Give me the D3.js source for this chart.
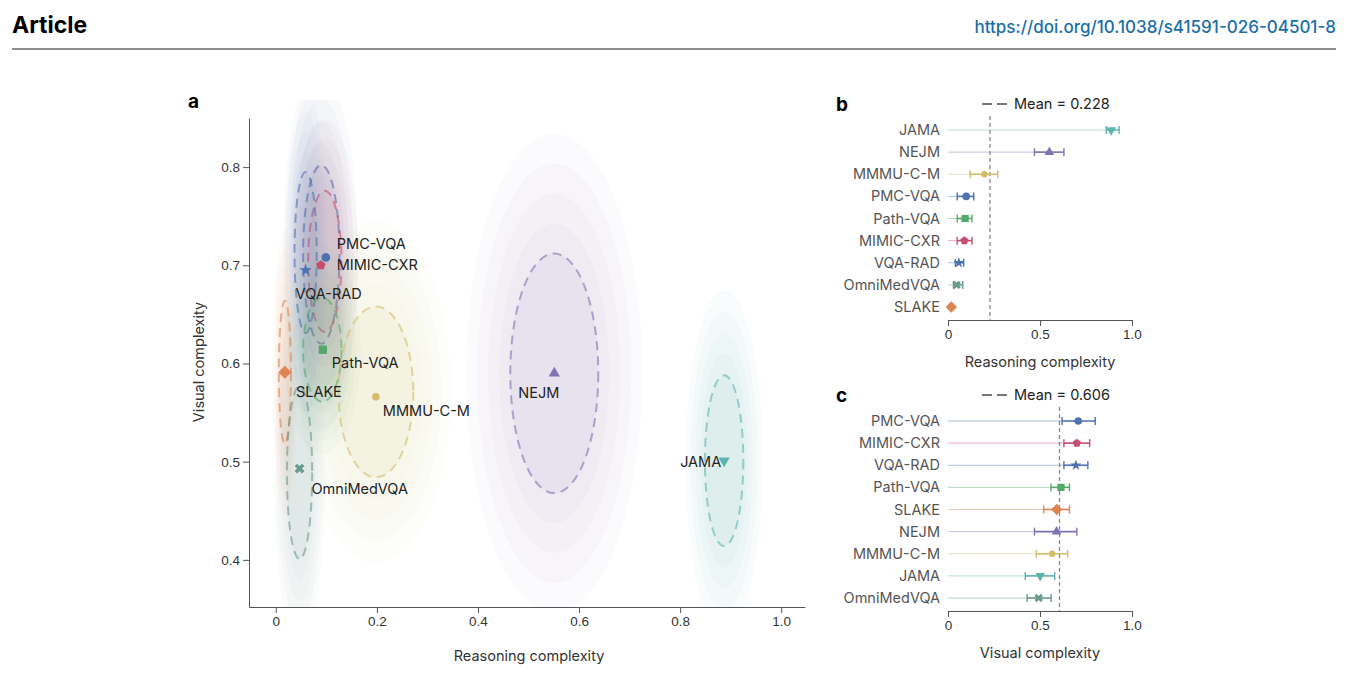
<!DOCTYPE html>
<html><head><meta charset="utf-8">
<script src="https://cdn.jsdelivr.net/npm/d3@7"></script>
<style>body{margin:0;background:#fff;font-family:Inter,"Noto Sans",sans-serif}</style>
</head><body><div id="vis"></div>
<script>
const names = ["PMC-VQA","MIMIC-CXR","VQA-RAD","Path-VQA","SLAKE","NEJM","MMMU-C-M","JAMA","OmniMedVQA"];
const colors = ["#4c72b0","#c44e6e","#4c72b0","#55a868","#dd8452","#8172b3","#d4bd6a","#5fb3ad","#6a9a8a"];
const shapes = ["circle","pentagon","star","square","diamond","triUp","circleSmall","triDown","x"];
const reasonMean = [0.099,0.089,0.059,0.093,0.018,0.551,0.198,0.887,0.047];
const reasonLo = [0.05,0.05,0.04,0.05,0.01,0.47,0.12,0.86,0.03];
const reasonHi = [0.14,0.13,0.085,0.13,0.025,0.63,0.27,0.93,0.08];
const visualMean = [0.708,0.700,0.695,0.614,0.591,0.590,0.566,0.501,0.493];
const visualLo = [0.62,0.63,0.63,0.56,0.52,0.47,0.48,0.42,0.43];
const visualHi = [0.80,0.77,0.76,0.66,0.66,0.70,0.65,0.58,0.56];
const ellCx = [0.090,0.097,0.059,0.092,0.018,0.551,0.198,0.887,0.047];
const ellCy = [0.711,0.704,0.713,0.614,0.591,0.590,0.571,0.501,0.489];
const ellRx = [0.036,0.033,0.022,0.038,0.012,0.087,0.074,0.038,0.025];
const ellRy = [0.091,0.072,0.082,0.053,0.073,0.122,0.087,0.087,0.088];
const labelDx = [11,16,-10,9,11,-36,7,-44,12];
const labelDy = [-13,0,24,13,20,20,14,1,20];
const orderB = ["JAMA","NEJM","MMMU-C-M","PMC-VQA","Path-VQA","MIMIC-CXR","VQA-RAD","OmniMedVQA","SLAKE"];
const orderC = ["PMC-VQA","MIMIC-CXR","VQA-RAD","Path-VQA","SLAKE","NEJM","MMMU-C-M","JAMA","OmniMedVQA"];
const meanReason = 0.228, meanVisual = 0.606;
const ticksA = [0,0.2,0.4,0.6,0.8,1.0];
const ticksAy = [0.4,0.5,0.6,0.7,0.8];
const ticksBC = [0,0.5,1.0];

const W = 1348, H = 673;
const svg = d3.select('#vis').append('svg').attr('width', W).attr('height', H);
const txt = '#333';

svg.append('text').attr('x', 12).attr('y', 33).attr('font-size', 23).attr('font-weight', 700).text('Article');
svg.append('text').attr('x', 1336).attr('y', 33).attr('text-anchor', 'end').attr('font-size', 17).attr('font-weight', 500)
  .attr('fill', '#1a6fa8').text('https://doi.org/10.1038/s41591-026-04501-8');
svg.append('line').attr('x1', 12).attr('x2', 1336).attr('y1', 49).attr('y2', 49).attr('stroke', '#222').attr('stroke-width', 1.2);

function sym(g, shape, color, size) {
  let p;
  const s = size || 1;
  if (shape === 'circle') p = d3.symbol().type(d3.symbolCircle).size(60*s)();
  else if (shape === 'circleSmall') p = d3.symbol().type(d3.symbolCircle).size(45*s)();
  else if (shape === 'pentagon') { p = d3.line()(d3.range(5).map(i => { const a = -Math.PI/2 + i*2*Math.PI/5; const r = 5*Math.sqrt(s); return [r*Math.cos(a), r*Math.sin(a)]; })) + 'Z'; }
  else if (shape === 'star') p = d3.symbol().type(d3.symbolStar).size(50*s)();
  else if (shape === 'square') p = d3.symbol().type(d3.symbolSquare).size(70*s)();
  else if (shape === 'diamond') { const r = 6.5*Math.sqrt(s); p = `M0,${-r}L${r},0L0,${r}L${-r},0Z`; }
  else if (shape === 'triUp') p = d3.symbol().type(d3.symbolTriangle).size(55*s)();
  else if (shape === 'triDown') p = d3.symbol().type(d3.symbolTriangle).size(55*s)();
  else p = d3.symbol().type(d3.symbolCross).size(60*s)();
  const el = g.append('path').attr('d', p).attr('fill', color);
  if (shape === 'triDown') el.attr('transform', 'rotate(180)');
  if (shape === 'x') el.attr('transform', 'rotate(45)');
  return el;
}

// ---- panel a
const x = d3.scaleLinear().domain([-0.053, 1.047]).range([249, 805]);
const y = d3.scaleLinear().domain([0.352, 0.85]).range([607, 118]);
const ga = svg.append('g');
svg.append('clipPath').attr('id', 'clipA').append('rect').attr('x', 249).attr('y', 100).attr('width', 560).attr('height', 507);
const ellG = ga.append('g').attr('clip-path', 'url(#clipA)');
names.forEach((n, i) => {
  [2.0, 1.75, 1.5, 1.25].forEach(k => {
    ellG.append('ellipse').attr('cx', x(ellCx[i])).attr('cy', y(ellCy[i]))
      .attr('rx', (x(ellRx[i]*k) - x(0))).attr('ry', (y(0) - y(ellRy[i]*k)))
      .attr('fill', colors[i]).attr('opacity', 0.035);
  });
  ellG.append('ellipse').attr('cx', x(ellCx[i])).attr('cy', y(ellCy[i]))
    .attr('rx', x(ellRx[i]) - x(0)).attr('ry', y(0) - y(ellRy[i]))
    .attr('fill', colors[i]).attr('fill-opacity', 0.07)
    .attr('stroke', colors[i]).attr('stroke-opacity', 0.6).attr('stroke-width', 2).attr('stroke-dasharray', '9,6');
});
names.forEach((n, i) => {
  const g = ga.append('g').attr('transform', `translate(${x(reasonMean[i])},${y(visualMean[i])})`);
  sym(g, shapes[i], colors[i]);
  ga.append('text').attr('x', x(reasonMean[i]) + labelDx[i]).attr('y', y(visualMean[i]) + labelDy[i] + 5)
    .attr('font-size', 14.5).attr('fill', '#222').text(n);
});
ga.append('g').attr('transform', 'translate(0,607)')
  .call(d3.axisBottom(x).tickValues(ticksA).tickFormat(d => d === 0 ? '0' : d3.format('.1f')(d)).tickSizeOuter(0))
  .call(g => { g.selectAll('text').attr('font-size', 13.5).attr('fill', txt); g.selectAll('line,path').attr('stroke', '#555'); });
ga.append('g').attr('transform', 'translate(249,0)')
  .call(d3.axisLeft(y).tickValues(ticksAy).tickFormat(d3.format('.1f')).tickSizeOuter(0))
  .call(g => { g.selectAll('text').attr('font-size', 13.5).attr('fill', txt); g.selectAll('line,path').attr('stroke', '#555'); });
ga.append('text').attr('x', 529).attr('y', 661).attr('text-anchor', 'middle').attr('font-size', 14.5).attr('fill', txt).text('Reasoning complexity');
ga.append('text').attr('transform', 'translate(204,362) rotate(-90)').attr('text-anchor', 'middle').attr('font-size', 14.5).attr('fill', txt).text('Visual complexity');
svg.append('text').attr('x', 188).attr('y', 108).attr('font-size', 19).attr('font-weight', 700).text('a');

// ---- panels b & c
function forest(letter, top, order, mean, lo, hi, meanVal, xlabel) {
  const xs = d3.scaleLinear().domain([0, 1]).range([948, 1132]);
  const ys = d3.scalePoint().domain(order).range([top + 26, top + 203]);
  const axisY = top + 216;
  const g = svg.append('g');
  svg.append('text').attr('x', 836).attr('y', top + 7).attr('font-size', 19).attr('font-weight', 700).text(letter);
  g.append('line').attr('x1', 982).attr('x2', 1008).attr('y1', top).attr('y2', top)
    .attr('stroke', '#777').attr('stroke-width', 2).attr('stroke-dasharray', '10,5');
  g.append('text').attr('x', 1014).attr('y', top + 5).attr('font-size', 14.5).attr('fill', '#222')
    .text('Mean = ' + meanVal.toFixed(3));
  g.append('line').attr('x1', xs(meanVal)).attr('x2', xs(meanVal)).attr('y1', top + 12).attr('y2', axisY)
    .attr('stroke', '#888').attr('stroke-width', 1.3).attr('stroke-dasharray', '4,3');
  order.forEach(n => {
    const i = names.indexOf(n), yy = ys(n);
    g.append('line').attr('x1', xs(0)).attr('x2', xs(mean[i])).attr('y1', yy).attr('y2', yy)
      .attr('stroke', colors[i]).attr('stroke-opacity', 0.45).attr('stroke-width', 1);
    g.append('line').attr('x1', xs(lo[i])).attr('x2', xs(hi[i])).attr('y1', yy).attr('y2', yy)
      .attr('stroke', colors[i]).attr('stroke-width', 1.6);
    [lo[i], hi[i]].forEach(v => g.append('line').attr('x1', xs(v)).attr('x2', xs(v)).attr('y1', yy - 4).attr('y2', yy + 4)
      .attr('stroke', colors[i]).attr('stroke-width', 1.4));
    sym(g.append('g').attr('transform', `translate(${xs(mean[i])},${yy})`), shapes[i], colors[i], 0.75);
    g.append('text').attr('x', 940).attr('y', yy + 5).attr('text-anchor', 'end').attr('font-size', 14.5).attr('fill', '#555').text(n);
  });
  g.append('g').attr('transform', `translate(0,${axisY})`)
    .call(d3.axisBottom(xs).tickValues(ticksBC).tickFormat(d => d === 0 ? '0' : d3.format('.1f')(d)).tickSizeOuter(0).tickSize(6))
    .call(a => { a.selectAll('text').attr('font-size', 13.5).attr('fill', txt); a.selectAll('line,path').attr('stroke', '#555'); });
  g.append('text').attr('x', 1040).attr('y', axisY + 47).attr('text-anchor', 'middle').attr('font-size', 14.5).attr('fill', txt).text(xlabel);
}
forest('b', 104, orderB, reasonMean, reasonLo, reasonHi, meanReason, 'Reasoning complexity');
forest('c', 395, orderC, visualMean, visualLo, visualHi, meanVisual, 'Visual complexity');
</script></body></html>
